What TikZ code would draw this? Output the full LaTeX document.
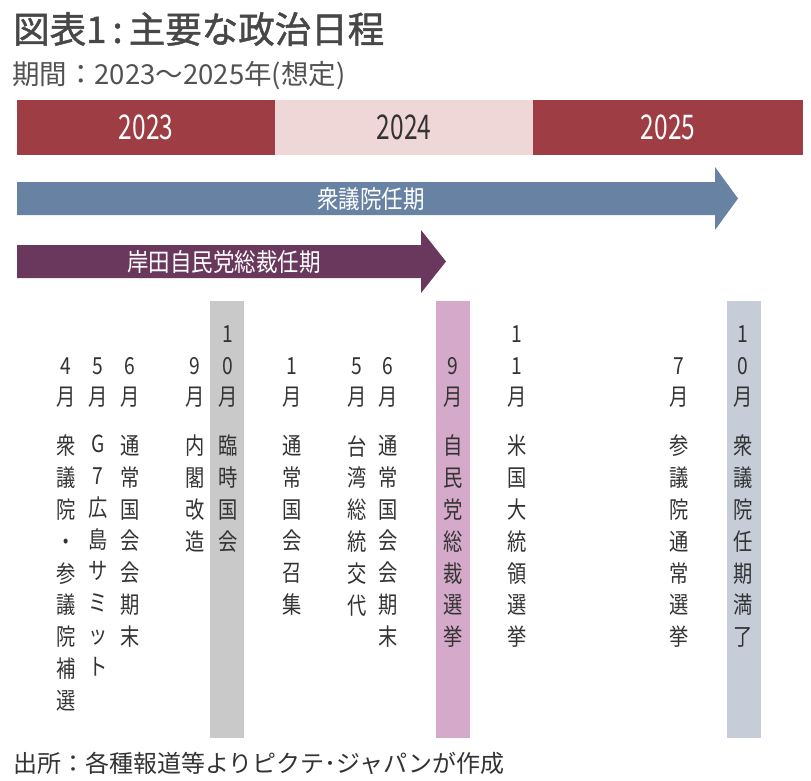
\documentclass[tikz,border=0pt]{standalone}
\usepackage{fontspec}
\usepackage{xcolor}
\setmainfont{Noto Sans CJK JP}
\newfontfamily\ttl[FakeBold=1.3]{Noto Sans CJK JP}
\newfontfamily\nar[FakeStretch=0.86]{Noto Sans CJK JP}
\newfontfamily\col[FakeStretch=0.82]{Noto Sans CJK JP}
\newfontfamily\yrf[FakeStretch=0.72]{Noto Sans CJK JP}
\definecolor{darkred}{HTML}{9E3D44}
\definecolor{lightred}{HTML}{EFD6D7}
\definecolor{termblue}{HTML}{6882A3}
\definecolor{termpurple}{HTML}{6A385D}
\definecolor{bandgray}{HTML}{C9C9C9}
\definecolor{bandpink}{HTML}{D4A9C9}
\definecolor{bandblue}{HTML}{C6CDD9}
\definecolor{txt}{HTML}{333333}
\tikzset{
    YR1/.style ={rectangle, minimum width=258pt, minimum height=55pt, inner sep=0pt, fill=darkred, text=white, font=\yrf\fontsize{34}{34}\selectfont},
    YR2/.style ={YR1, fill=lightred, text=txt},
    MO/.style ={anchor=south, align=center, inner sep=0pt, text=txt, font=\col\fontsize{23.5}{31.8}\selectfont},
    EV/.style ={MO, anchor=north},
    AL/.style ={inner sep=0pt, text=white, font=\nar\fontsize{25}{25}\selectfont},
    HD/.style ={anchor=west, inner sep=0pt}
}
\begin{document}
\begin{tikzpicture}[x=1pt, y=-1pt]
        \useasboundingbox (0,0) rectangle (811,780);
        % titles
        \node[HD, text=txt!90, font=\ttl\fontsize{36.5}{36.5}\selectfont] (title) at (13,29) {図表1\,:\,主要な政治日程};
        \node[HD, text=txt!85, font=\fontsize{27.5}{27.5}\selectfont] (sub) at (12,75.5) {期間：2023～2025年(想定)};
        % years
        \node[YR1] (y1) at (146,127.5) {2023};
        \node[YR2] (y2) at (404,127.5) {2024};
        \node[YR1, minimum width=270pt] (y3) at (668,127.5) {2025};
        % terms
        \fill[termblue] (17,182) -- (715,182) -- (715,167) -- (738,198.5) -- (715,230) -- (715,215) -- (17,215) -- cycle;
        \node[AL] (t1) at (371,199) {衆議院任期};
        \fill[termpurple] (17,245) -- (421,245) -- (421,230) -- (446,261.5) -- (421,293) -- (421,278) -- (17,278) -- cycle;
        \node[AL] (t2) at (224,262) {岸田自民党総裁任期};
        % bands
        \fill[bandgray] (210,301) rectangle (244,738);
        \fill[bandpink] (436,301) rectangle (470,738);
        \fill[bandblue] (727,301) rectangle (761,738);
        % events
        \node[MO] (m1) at (66,408) {4\\月};
        \node[EV] (e1) at (66,435) {衆\\議\\院\\・\\参\\議\\院\\補\\選};
        \node[MO] (m2) at (98,408) {5\\月};
        \node[EV] (e2) at (98,435) {G\\7\\広\\島\\サ\\ミ\\ッ\\ト};
        \node[MO] (m3) at (130,408) {6\\月};
        \node[EV] (e3) at (130,435) {通\\常\\国\\会\\会\\期\\末};
        \node[MO] (m4) at (195,408) {9\\月};
        \node[EV] (e4) at (195,435) {内\\閣\\改\\造};
        \node[MO] (m5) at (228,408) {1\\0\\月};
        \node[EV] (e5) at (228,435) {臨\\時\\国\\会};
        \node[MO] (m6) at (292,408) {1\\月};
        \node[EV] (e6) at (292,435) {通\\常\\国\\会\\召\\集};
        \node[MO] (m7) at (357,408) {5\\月};
        \node[EV] (e7) at (357,435) {台\\湾\\総\\統\\交\\代};
        \node[MO] (m8) at (388,408) {6\\月};
        \node[EV] (e8) at (388,435) {通\\常\\国\\会\\会\\期\\末};
        \node[MO] (m9) at (453,408) {9\\月};
        \node[EV] (e9) at (453,435) {自\\民\\党\\総\\裁\\選\\挙};
        \node[MO] (m10) at (517,408) {1\\1\\月};
        \node[EV] (e10) at (517,435) {米\\国\\大\\統\\領\\選\\挙};
        \node[MO] (m11) at (679,408) {7\\月};
        \node[EV] (e11) at (679,435) {参\\議\\院\\通\\常\\選\\挙};
        \node[MO] (m12) at (743,408) {1\\0\\月};
        \node[EV] (e12) at (743,435) {衆\\議\\院\\任\\期\\満\\了};
        % source
        \node[HD, text=txt, font=\fontsize{24}{24}\selectfont] (src) at (13,763) {出所：各種報道等よりピクテ･ジャパンが作成};
    \end{tikzpicture}
\end{document}
